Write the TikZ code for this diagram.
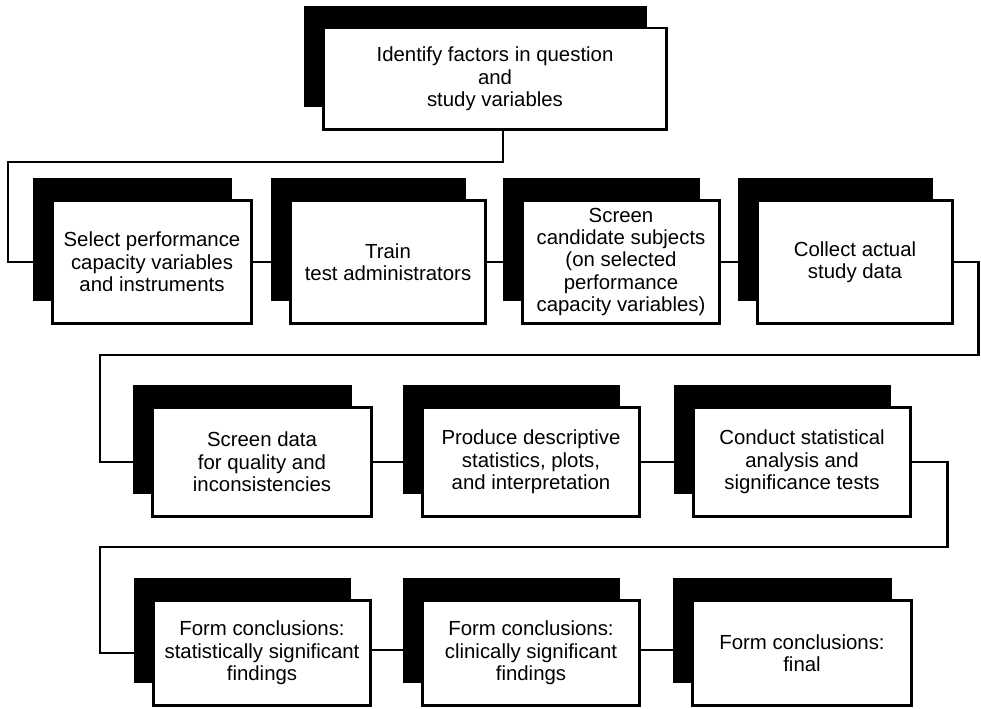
\documentclass[tikz,border=0pt]{standalone}
\usepackage{fontspec}
\setmainfont{Liberation Sans}
\usetikzlibrary{shadows}
\tikzset{
  every picture/.style={line width=1.7pt},
  box/.style={draw=black, fill=white, align=center, inner sep=2pt,
    font=\fontsize{11.6}{12.8}\selectfont,
    general shadow={fill=black, shadow xshift=-0.39cm, shadow yshift=0.45cm}},
  rowa/.style={box, minimum height=2.48cm},
  rowb/.style={box, minimum height=2.18cm},
  rowc/.style={box, minimum height=2.12cm},
  link/.style={draw=black, line width=1.7pt},
}

\begin{document}
\begin{tikzpicture}[x=0.02cm, y=-0.02cm]
  \useasboundingbox (0,0) rectangle (981,709);
  \node[box, minimum width=6.88cm, minimum height=2.04cm] (identify) at (495,79) {Identify factors in question\\and\\study variables};
  % first row
  \node[rowa, minimum width=3.98cm] (select) at (152,262) {Select performance\\capacity variables\\and instruments};
  \node[rowa, minimum width=3.92cm] (train) at (388,262) {Train\\test administrators};
  \node[rowa, minimum width=3.96cm] (candidates) at (621,262) {Screen\\candidate subjects\\(on selected\\performance\\capacity variables)};
  \node[rowa, minimum width=3.92cm] (collect) at (855,262) {Collect actual\\study data};
  % second row
  \node[rowb, minimum width=4.38cm] (screendata) at (262,462) {Screen data\\for quality and\\inconsistencies};
  \node[rowb, minimum width=4.36cm] (describe) at (531,462) {Produce descriptive\\statistics, plots,\\and interpretation};
  \node[rowb, minimum width=4.36cm] (analysis) at (802,462) {Conduct statistical\\analysis and\\significance tests};
  % third row
  \node[rowc, minimum width=4.34cm] (statsig) at (262,653) {Form conclusions:\\statistically significant\\findings};
  \node[rowc, minimum width=4.36cm] (clinsig) at (531,653) {Form conclusions:\\clinically significant\\findings};
  \node[rowc, minimum width=4.38cm] (final) at (802,653) {Form conclusions:\\final};
  % bends
  \coordinate (bendA) at (8,162);
  \coordinate (bendB) at (978,355);
  \coordinate (bendC) at (100,355);
  \coordinate (bendD) at (947,547);
  \coordinate (bendE) at (100,547);
  \draw[link] ([xshift=0.16cm]identify.south) |- (bendA) |- (select.west);
  \draw[link] (select) -- (train);
  \draw[link] (train) -- (candidates);
  \draw[link] (candidates) -- (collect);
  \draw[link] (collect.east) -| (bendB) -- (bendC) |- (screendata.west);
  \draw[link] (screendata) -- (describe);
  \draw[link] (describe) -- (analysis);
  \draw[link] (analysis.east) -| (bendD) -- (bendE) |- (statsig.west);
  \draw[link] ([yshift=0.06cm]statsig.east) -- ([yshift=0.06cm]clinsig.west);
  \draw[link] ([yshift=0.06cm]clinsig.east) -- ([yshift=0.06cm]final.west);
\end{tikzpicture}
\end{document}
